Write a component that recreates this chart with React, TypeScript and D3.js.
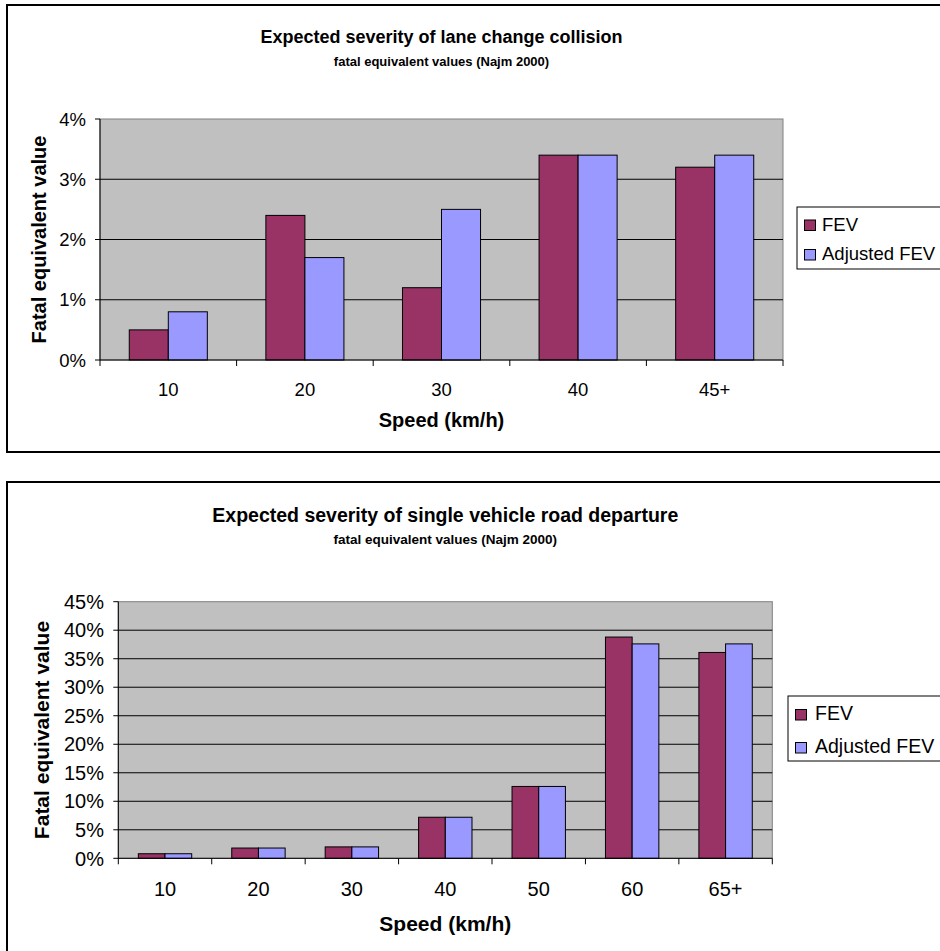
import React from 'react';
import * as d3 from 'd3';

// ---------- Data ----------
const seriesNames = ['FEV', 'Adjusted FEV'];
const seriesColors = ['#993366', '#9999FF'];

const laneTitle = 'Expected severity of lane change collision';
const laneSubtitle = 'fatal equivalent values (Najm 2000)';
const laneCategories = ['10', '20', '30', '40', '45+'];
const laneFEV = [0.005, 0.024, 0.012, 0.034, 0.032];
const laneAdjusted = [0.008, 0.017, 0.025, 0.034, 0.034];
const laneTicks = [0, 0.01, 0.02, 0.03, 0.04];

const roadTitle = 'Expected severity of single vehicle road departure';
const roadSubtitle = 'fatal equivalent values (Najm 2000)';
const roadCategories = ['10', '20', '30', '40', '50', '60', '65+'];
const roadFEV = [0.008, 0.018, 0.02, 0.072, 0.126, 0.388, 0.361];
const roadAdjusted = [0.008, 0.018, 0.02, 0.072, 0.126, 0.376, 0.376];
const roadTicks = [0, 0.05, 0.1, 0.15, 0.2, 0.25, 0.3, 0.35, 0.4, 0.45];

const xAxisTitle = 'Speed (km/h)';
const yAxisTitle = 'Fatal equivalent value';

const FONT = 'Arial, "Liberation Sans", sans-serif';

type Layout = {
  frameTop: number;
  frameBottom: number;
  titleY: number;
  subtitleY: number;
  plot: { l: number; r: number; t: number; b: number };
  xLabelY: number;
  xTitleY: number;
  yTitleX: number;
  yLabelRight: number;
  legend: { x: number; y: number; h: number; swX: number; textX: number; rows: number[] };
  fs: { title: number; subtitle: number; tick: number; axis: number; legend: number };
};

type ChartProps = {
  title: string;
  subtitle: string;
  categories: string[];
  values: number[][];
  ticks: number[];
  layout: Layout;
};

function Chart({ title, subtitle, categories, values, ticks, layout }: ChartProps) {
  const { plot, fs } = layout;
  const x = d3.scaleBand<string>().domain(categories).range([plot.l, plot.r]).paddingInner(0).paddingOuter(0);
  const inner = d3.scaleBand<string>().domain(seriesNames).range([0, x.step()]).paddingInner(0).paddingOuter(0.75);
  const y = d3.scaleLinear().domain([0, ticks[ticks.length - 1]]).range([plot.b, plot.t]);
  const fmt = d3.format('.0%');
  const cx = (plot.l + plot.r) / 2;
  const boundaries = d3.range(categories.length + 1).map((i) => plot.l + i * x.step());

  return (
    <g>
      <rect x={7} y={layout.frameTop} width={1000} height={layout.frameBottom - layout.frameTop} fill="#fff" stroke="#000" strokeWidth={2} />
      <text x={cx} y={layout.titleY} textAnchor="middle" fontFamily={FONT} fontWeight="bold" fontSize={fs.title}>{title}</text>
      <text x={cx} y={layout.subtitleY} textAnchor="middle" fontFamily={FONT} fontWeight="bold" fontSize={fs.subtitle}>{subtitle}</text>

      {/* plot area */}
      <rect x={plot.l} y={plot.t} width={plot.r - plot.l} height={plot.b - plot.t} fill="#C0C0C0" stroke="#808080" strokeWidth={1} />
      {ticks.slice(1, -1).map((t) => (
        <line key={'g' + t} x1={plot.l} x2={plot.r} y1={y(t)} y2={y(t)} stroke="#000" strokeWidth={1} />
      ))}

      {/* bars */}
      {categories.map((c, ci) => (
        <g key={c}>
          {seriesNames.map((s, si) => (
            <rect
              key={s}
              x={(x(c) as number) + (inner(s) as number)}
              y={y(values[si][ci])}
              width={inner.bandwidth()}
              height={y(0) - y(values[si][ci])}
              fill={seriesColors[si]}
              stroke="#000"
              strokeWidth={1}
            />
          ))}
        </g>
      ))}

      {/* y axis */}
      <line x1={plot.l} x2={plot.l} y1={plot.t} y2={plot.b} stroke="#000" strokeWidth={1} />
      {ticks.map((t) => (
        <g key={'y' + t}>
          <line x1={plot.l - 5} x2={plot.l} y1={y(t)} y2={y(t)} stroke="#000" strokeWidth={1} />
          <text x={layout.yLabelRight} y={y(t)} dy="0.36em" textAnchor="end" fontFamily={FONT} fontSize={fs.tick}>{fmt(t)}</text>
        </g>
      ))}

      {/* x axis */}
      <line x1={plot.l} x2={plot.r} y1={plot.b} y2={plot.b} stroke="#000" strokeWidth={1} />
      {boundaries.map((bx, i) => (
        <line key={'xt' + i} x1={bx} x2={bx} y1={plot.b} y2={plot.b + 6} stroke="#000" strokeWidth={1} />
      ))}
      {categories.map((c) => (
        <text key={'xl' + c} x={(x(c) as number) + x.bandwidth() / 2} y={layout.xLabelY} textAnchor="middle" fontFamily={FONT} fontSize={fs.tick}>{c}</text>
      ))}

      <text x={cx} y={layout.xTitleY} textAnchor="middle" fontFamily={FONT} fontWeight="bold" fontSize={fs.axis}>{xAxisTitle}</text>
      <text transform={`translate(${layout.yTitleX},${(plot.t + plot.b) / 2}) rotate(-90)`} textAnchor="middle" fontFamily={FONT} fontWeight="bold" fontSize={fs.axis}>{yAxisTitle}</text>

      {/* legend */}
      <rect x={layout.legend.x} y={layout.legend.y} width={300} height={layout.legend.h} fill="#fff" stroke="#000" strokeWidth={1} />
      {seriesNames.map((s, si) => (
        <g key={'lg' + s}>
          <rect x={layout.legend.swX} y={layout.legend.rows[si] - 10.5} width={11} height={10.5} fill={seriesColors[si]} stroke="#000" strokeWidth={1} />
          <text x={layout.legend.textX} y={layout.legend.rows[si]} fontFamily={FONT} fontSize={fs.legend}>{s}</text>
        </g>
      ))}
    </g>
  );
}

const laneLayout: Layout = {
  frameTop: 5,
  frameBottom: 452,
  titleY: 43,
  subtitleY: 66,
  plot: { l: 100, r: 783, t: 119, b: 360 },
  xLabelY: 396,
  xTitleY: 427,
  yTitleX: 46,
  yLabelRight: 86,
  legend: { x: 797, y: 207, h: 62, swX: 804.5, textX: 822, rows: [230.5, 260] },
  fs: { title: 18, subtitle: 13, tick: 18.5, axis: 20, legend: 18.5 },
};

const roadLayout: Layout = {
  frameTop: 482,
  frameBottom: 1000,
  titleY: 522,
  subtitleY: 544,
  plot: { l: 118.3, r: 772.3, t: 601.7, b: 858.3 },
  xLabelY: 895.5,
  xTitleY: 930.5,
  yTitleX: 49,
  yLabelRight: 104,
  legend: { x: 788, y: 696, h: 65, swX: 795.5, textX: 815, rows: [720, 753] },
  fs: { title: 19.5, subtitle: 13.5, tick: 20, axis: 21, legend: 19.5 },
};

export default function App() {
  return (
    <svg width={940} height={951} style={{ position: 'absolute', left: 0, top: 0, background: '#fff' }}>
      <rect x={0} y={0} width={940} height={951} fill="#fff" />
      <Chart title={laneTitle} subtitle={laneSubtitle} categories={laneCategories} values={[laneFEV, laneAdjusted]} ticks={laneTicks} layout={laneLayout} />
      <Chart title={roadTitle} subtitle={roadSubtitle} categories={roadCategories} values={[roadFEV, roadAdjusted]} ticks={roadTicks} layout={roadLayout} />
    </svg>
  );
}
